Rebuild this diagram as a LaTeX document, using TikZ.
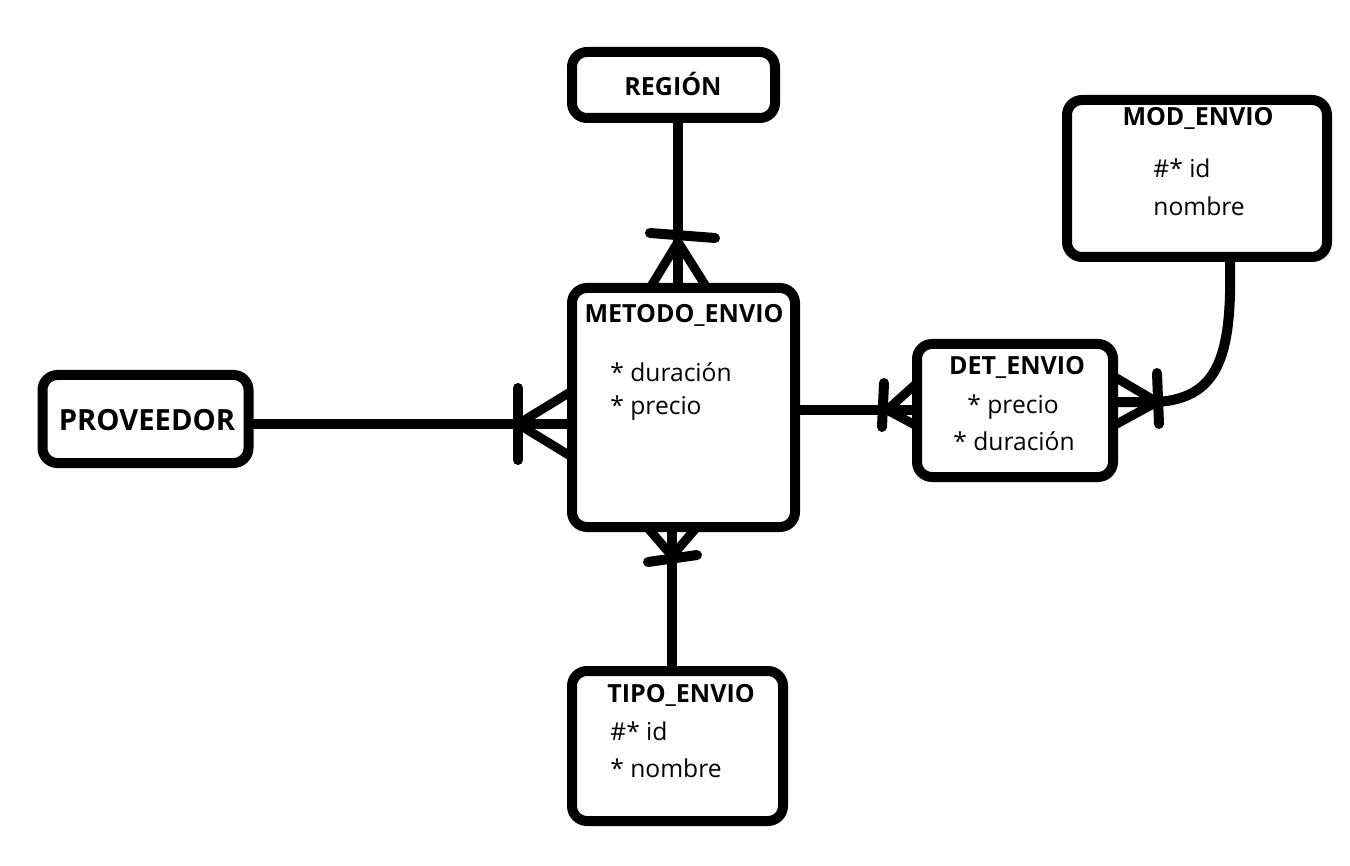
\documentclass[tikz,border=0pt]{standalone}
\usepackage{fontspec}
\setmainfont{Open Sans}
\usetikzlibrary{positioning,calc}
\definecolor{Ink}{HTML}{000000}
\tikzset{
  erEntity/.style={rectangle,rounded corners=7.5pt,draw=Ink,line width=5pt,fill=white,
    inner sep=0pt,outer sep=0pt},
  erTitle/.style={font=\bfseries\fontsize{12.5}{15}\selectfont,text=Ink,inner sep=0pt},
  erAttr/.style={font=\fontsize{12.3}{15}\selectfont,text=Ink,inner sep=0pt,anchor=west},
  relLine/.style={draw=Ink,line width=5pt},
  footLine/.style={draw=Ink,line width=4.5pt},
  barLine/.style={draw=Ink,line width=5pt,line cap=round}
}

\begin{document}
\begin{tikzpicture}[x=0.5pt,y=-0.5pt]
  \useasboundingbox (0,0) rectangle (1350,866);
  % entities
  \node[erEntity,minimum width=101.5pt,minimum height=33pt] (reg) at (673.5,85) {};
  \node[erEntity,minimum width=130pt,minimum height=78.5pt] (mod) at (1197,178.5) {};
  \node[erEntity,minimum width=111.5pt,minimum height=119.5pt] (met) at (683.5,407.5) {};
  \node[erEntity,minimum width=103pt,minimum height=44pt] (prov) at (145.5,419) {};
  \node[erEntity,minimum width=98pt,minimum height=66.5pt] (det) at (1015,410.5) {};
  \node[erEntity,minimum width=105.5pt,minimum height=75pt] (tipo) at (677.5,746) {};
  % texts
  \node[erTitle] (regT) at (673,84) {REGIÓN};
  \node[erTitle] (modT) at (1198,118) {MOD\_ENVIO};
  \node[erAttr] (modA) at (1153,168) {\#* id};
  \node[erAttr] (modB) at (1153,206) {nombre};
  \node[erTitle] (metT) at (684,315) {METODO\_ENVIO};
  \node[erAttr] (metA) at (610,372) {* duración};
  \node[erAttr] (metB) at (610,408) {* precio};
  \node[erTitle,font=\bfseries\fontsize{14.6}{17}\selectfont] (provT) at (147,420) {PROVEEDOR};
  \node[erTitle] (detT) at (1017,367) {DET\_ENVIO};
  \node[erAttr,anchor=center] (detA) at (1013,407) {* precio};
  \node[erAttr,anchor=center] (detB) at (1014,441) {* duración};
  \node[erTitle] (tipoT) at (681,695) {TIPO\_ENVIO};
  \node[erAttr] (tipoA) at (610,731) {\#* id};
  \node[erAttr] (tipoB) at (610,768) {* nombre};
  % REGIÓN -- METODO_ENVIO
  \coordinate (regFoot) at (678,242);
  \draw[relLine] (regFoot |- reg.south) -- (regFoot |- met.north);
  \draw[footLine] ($(regFoot |- met.north)+(-28,0)$) -- (regFoot) -- ($(regFoot |- met.north)+(29,0)$);
  \draw[barLine] ($(regFoot)+(-28,-9)$) -- ($(regFoot)+(37,-4)$);
  % PROVEEDOR -- METODO_ENVIO
  \coordinate (provFoot) at (518,424);
  \draw[relLine] (prov.east |- provFoot) -- (met.west |- provFoot);
  \draw[footLine] ($(met.west |- provFoot)+(0,-33)$) -- (provFoot) -- ($(met.west |- provFoot)+(0,33)$);
  \draw[barLine] ($(provFoot)+(0,-36)$) -- ($(provFoot)+(0,36)$);
  % METODO_ENVIO -- DET_ENVIO
  \coordinate (detFoot) at (887,410);
  \draw[relLine] (met.east |- detFoot) -- (det.west |- detFoot);
  \draw[footLine] ($(det.west |- detFoot)+(0,-27)$) -- (detFoot) -- ($(det.west |- detFoot)+(0,16)$);
  \draw[barLine] ($(detFoot)+(-3,-27)$) -- ($(detFoot)+(-5,17)$);
  % MOD_ENVIO -- DET_ENVIO
  \coordinate (modFoot) at (1157,402);
  \draw[relLine] (det.east |- modFoot) -- (modFoot)
    .. controls (1222,398) and (1232,350) .. ($(mod.south)+(33,0)$);
  \draw[footLine] ($(det.east |- modFoot)+(0,-26)$) -- (modFoot) -- ($(det.east |- modFoot)+(0,24)$);
  \draw[barLine] ($(modFoot)+(0,-29)$) -- ($(modFoot)+(2,22)$);
  % METODO_ENVIO -- TIPO_ENVIO
  \coordinate (tipoFoot) at (672,556);
  \draw[relLine] (tipoFoot |- met.south) -- (tipoFoot |- tipo.north);
  \draw[footLine] ($(tipoFoot |- met.south)+(-25,0)$) -- (tipoFoot) -- ($(tipoFoot |- met.south)+(25,0)$);
  \draw[barLine] ($(tipoFoot)+(-24,6)$) -- ($(tipoFoot)+(25,-1)$);
\end{tikzpicture}
\end{document}
